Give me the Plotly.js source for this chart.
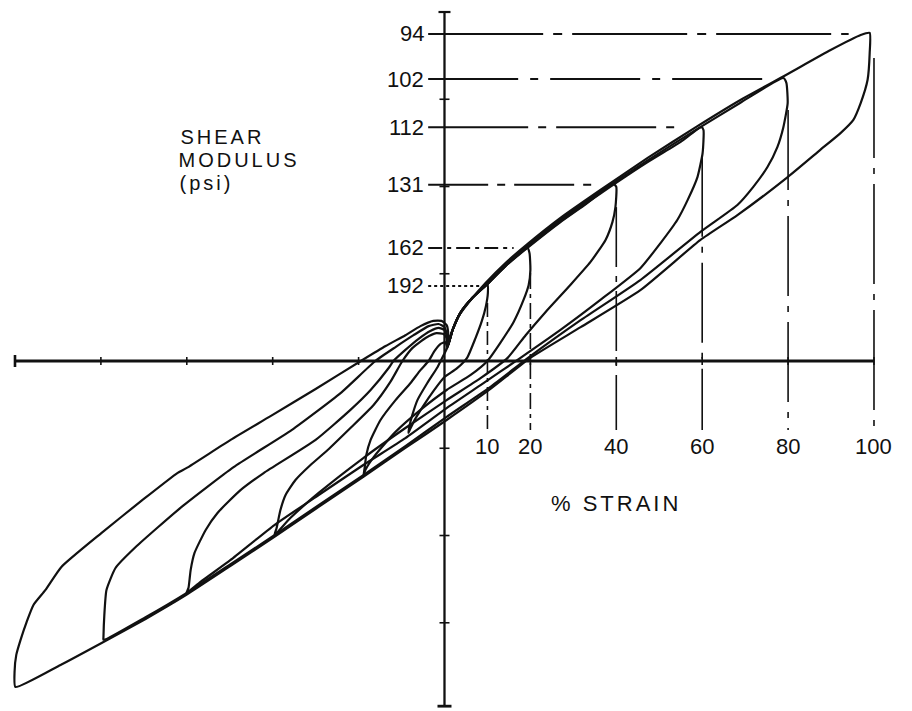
<!DOCTYPE html>
<html><head><meta charset="utf-8">
<script src="https://cdn.plot.ly/plotly-3.0.1.min.js"></script>
<style>
html,body{margin:0;padding:0;background:#fff;}
#chart{width:912px;height:711px;}
g.annotation[data-index="0"] text, g.annotation[data-index="1"] text, g.annotation[data-index="2"] text{letter-spacing:3px;}
g.annotation[data-index="3"] text{letter-spacing:3px;}
</style></head>
<body><div id="chart"></div>
<script>
// ---- data ----
const strainAmp = [10, 20, 40, 60, 80, 100];
const modulusLabels = ['192', '162', '131', '112', '102', '94'];
const peakStress = [21.5, 32.4, 50.5, 67.0, 80.8, 93.7];
const refLineEnd = [8.8, 16.1, 35.6, 55.6, 75.2, 94.1];
const vertLineTop = [16.6, 25.2, 44.1, 58.5, 71.9, 86.8];
const xTicks = [-100, -80, -60, -40, -20, 20, 40, 60, 80, 100];
const yTicks = [-75, -50, -25, 25, 50, 75];

const loop10_strain = [0.7,1.9,3.7,6.5,10.0, 10.1,9.6,8.7,7.2,5.3,2.8,0,-2.5,-5,-7,-8.0,-8.4, -8.1,-7.5,-6.3,-4.0,-1.6,-0.2,0.7];
const loop10_stress = [4.0,8.9,13.8,18.1,22.0, 19.5,15.5,11.5,6.5,1.0,-2.2,-4.6,-8.5,-13,-17,-19.5,-20.6, -18.3,-15.5,-11.2,-6.3,-1.7,1.7,4.0];

const loop20_strain = [0.7,1.9,3.7,6.5,10.0,14.2,19.3, 19.8,20.0,19.6,18.4,16.1,13.0,10.0,6.1,0.5,-5.6,-11.4,-16.1,-18.4,-18.9, -18.6,-18.2,-17.2,-14.9,-11.4,-7.9,-5.6,-3.7,-2.3,-0.9,0.2,0.7];
const loop20_stress = [4.0,8.9,13.8,18.1,22.1,27.2,32.4, 30.9,26.1,21.8,17.5,11.2,5.2,0,-4.0,-8.3,-14.0,-20.3,-26.9,-31.2,-33.2, -30.7,-26.9,-22.6,-16.9,-11.2,-6.3,-2.6,0,2.9,4.9,5.4,4.0];

const loop40_strain = [0.7,1.9,3.7,6.5,10.0,14.2,19.3,27.0,33.0,39.3, 40.0,39.8,39.1,37.5,34.0,29.3,23.5,18.9,14.7,8.4,0.5,-9.1,-18.9,-29.3,-35.9,-39.6, -39.1,-38.2,-37.0,-34.7,-31.2,-27.2,-21.9,-16.5,-12.6,-9.8,-7.5,-4.4,-1.9,-0.2,0.5,0.7];
const loop40_stress = [4.0,8.9,13.8,18.1,22.1,27.2,32.4,39.8,45.0,50.8, 49.9,44.1,39.8,34.7,28.4,21.8,14.0,7.4,0.9,-4.9,-11.2,-19.2,-27.8,-37.8,-45.0,-49.9, -47.9,-42.7,-38.4,-34.1,-29.8,-25.5,-19.2,-12.6,-6.0,0,3.7,6.6,8.0,7.7,6.6,4.0];

const loop60_strain = [0.7,1.9,3.7,6.5,10.0,14.2,19.3,27.0,36.3,47.3,55.0,59.8, 60.3,60.1,58.9,56.6,54.2,50.3,45.6,36.3,27.0,17.7,8.4,0.5,-9.1,-18.9,-29.3,-39.6,-49.8,-56.8,-60.1, -59.6,-59.1,-58.2,-55.6,-52.9,-47.5,-42.1,-30.0,-21.9,-17.2,-13.0,-11.9,-9.1,-6.1,-3.3,-1.4,0,0.7,0.7];
const loop60_stress = [4.0,8.9,13.8,18.1,22.1,27.4,32.6,40.0,48.0,57.0,62.8,67.0, 66.2,59.6,52.7,46.1,40.4,33.8,26.6,17.5,8.9,0.9,-6.9,-13.5,-22.1,-29.8,-38.4,-47.0,-57.0,-63.3,-66.5, -65.0,-59.9,-55.0,-48.4,-43.6,-37.0,-32.1,-22.6,-14.0,-8.3,-2.0,0,3.2,6.3,8.6,9.5,8.9,6.6,4.0];

const loop80_strain = [0.7,1.9,3.7,6.5,10.0,14.2,19.3,27.0,36.3,47.3,58.9,68.9,78.9, 79.6,79.9,78.9,77.5,75.2,71.9,68.2,59.6,45.6,31.7,20.0,10.7,0.5,-9.1,-18.9,-29.3,-39.6,-49.8,-60.1,-69.6,-79.4, -79.4,-79.2,-78.7,-76.6,-71.9,-61.2,-49.1,-35.6,-24.2,-16.1,-11.4,-7.2,-3.7,-1.4,0,0.7,0.7];
const loop80_stress = [4.0,8.9,13.8,18.1,22.1,27.6,33.0,40.5,48.5,57.5,66.5,74.0,81.1, 79.7,73.9,67.0,61.3,55.6,49.9,44.7,37.0,23.2,11.7,1.4,-7.4,-16.0,-24.4,-32.7,-41.3,-49.9,-58.2,-66.5,-73.4,-79.9, -79.1,-72.8,-65.6,-59.3,-53.3,-41.8,-30.4,-19.8,-9.2,0,4.0,7.4,10.0,10.6,9.7,6.9,4.0];

const loop100_strain = [0.7,1.6,3.3,6.1,9.5,14.2,19.3,27.0,36.3,47.3,58.9,68.9,79.4,89.9,96.9,99.0, 99.0,98.5,96.9,95.2,92.2,87.5,79.9,68.2,59.6,45.6,31.7,20.0,10.7,0.5,-9.1,-18.9,-29.3,-39.6,-49.8,-60.1,-69.6,-79.4,-89.4,-99.9, -100.1,-99.7,-98.7,-97.3,-95.7,-92.9,-89.2,-79.9,-70.3,-62.2,-60.1,-49.8,-40.5,-30.0,-19.1,-13.7,-9.1,-5.6,-2.6,-0.7,0.5,0.9,0.7];
const loop100_stress = [4.0,8.0,12.9,17.5,22.3,28.1,33.5,41.0,49.0,58.2,67.3,74.8,81.9,89.1,93.4,94.0, 88.3,80.5,73.9,69.1,65.3,60.5,52.7,41.8,34.7,20.3,9.7,0.9,-8.0,-16.9,-24.9,-33.2,-41.8,-50.4,-58.7,-67.0,-73.9,-80.5,-87.1,-93.4, -89.1,-84.2,-79.9,-74.8,-69.9,-65.6,-59.0,-49.3,-39.8,-32.1,-30.7,-22.6,-15.8,-8.0,0.3,4.3,7.4,10.0,11.5,11.5,10.3,7.4,4.0];

// ---- layout scale (pixels per unit) ----
const W = 912, H = 711;
const xRange = [-103.49, 108.85];
const yRange = [-100.28, 103.44];
const pxX = W / (xRange[1] - xRange[0]);
const pxY = H / (yRange[1] - yRange[0]);

const loops = [
  [loop10_strain, loop10_stress], [loop20_strain, loop20_stress], [loop40_strain, loop40_stress],
  [loop60_strain, loop60_stress], [loop80_strain, loop80_stress], [loop100_strain, loop100_stress]
];
const traces = loops.map(([xs, ys]) => ({
  x: xs, y: ys, type: 'scatter', mode: 'lines', hoverinfo: 'skip',
  line: {color: '#111', width: 2.2, shape: 'spline', smoothing: 0.5}
}));

const shapes = [];
function seg(x0, y0, x1, y1, w, dash) {
  shapes.push({type: 'line', xref: 'x', yref: 'y', x0, y0, x1, y1,
    line: {color: '#111', width: w, dash: dash || 'solid'}});
}
// axes
seg(-100, 0, 100, 0, 2.8);
seg(0, -98.9, 0, 100, 2.3);
seg(-100, -6 / pxY, -100, 6 / pxY, 2.6);
xTicks.forEach(t => seg(t, -4 / pxY, t, 4 / pxY, 1.6));
yTicks.forEach(t => seg(-5 / pxX, t, 5 / pxX, t, 1.6));
seg(-6 / pxX, 100, 6 / pxX, 100, 2.2);
seg(-7 / pxX, -98.9, 7 / pxX, -98.9, 2.8);

// reference dash-dot lines
const hDash = ['3px,3px', '14px,5px,4px,5px', '60px,9px,8px,9px', '100px,10px,8px,10px', '90px,12px,8px,12px', '115px,10px,9px,10px'];
const vDash = ['14px,5px,4px,5px', '16px,5px,4px,5px', '60px,9px,6px,9px', '80px,10px,6px,10px', '80px,10px,6px,10px', '100px,10px,6px,10px'];
strainAmp.forEach((s, i) => {
  seg(-3.8, peakStress[i], refLineEnd[i], peakStress[i], 1.9, hDash[i]);
  seg(s, vertLineTop[i], s, -19.8, 1.6, vDash[i]);
});

const fontNum = {family: 'Liberation Sans, Arial, sans-serif', size: 22, color: '#111'};
const fontTxt = {family: 'Liberation Sans, Arial, sans-serif', size: 20, color: '#111'};
const annotations = [
  {text: 'SHEAR', x: -51.8, y: 64.2, xanchor: 'center', yanchor: 'middle', font: fontTxt},
  {text: 'MODULUS', x: -47.8, y: 57.6, xanchor: 'center', yanchor: 'middle', font: fontTxt},
  {text: '(psi)', x: -55.4, y: 51.0, xanchor: 'center', yanchor: 'middle', font: fontTxt},
  {text: '% STRAIN', x: 40, y: -40.7, xanchor: 'center', yanchor: 'middle', font: {family: fontNum.family, size: 22, color: '#111'}}
];
strainAmp.forEach((s, i) => {
  annotations.push({text: modulusLabels[i], x: -4.4, y: peakStress[i], xanchor: 'right', yanchor: 'middle', font: fontNum});
  annotations.push({text: String(s), x: s, y: -24.4, xanchor: 'center', yanchor: 'middle', font: fontNum});
});
annotations.forEach(a => { a.xref = 'x'; a.yref = 'y'; a.showarrow = false; });

const layout = {
  width: W, height: H, margin: {l: 0, r: 0, t: 0, b: 0},
  paper_bgcolor: '#fff', plot_bgcolor: '#fff', showlegend: false,
  xaxis: {range: xRange, visible: false, fixedrange: true},
  yaxis: {range: yRange, visible: false, fixedrange: true},
  shapes, annotations
};
Plotly.newPlot('chart', traces, layout, {staticPlot: true, displayModeBar: false});
</script></body></html>
